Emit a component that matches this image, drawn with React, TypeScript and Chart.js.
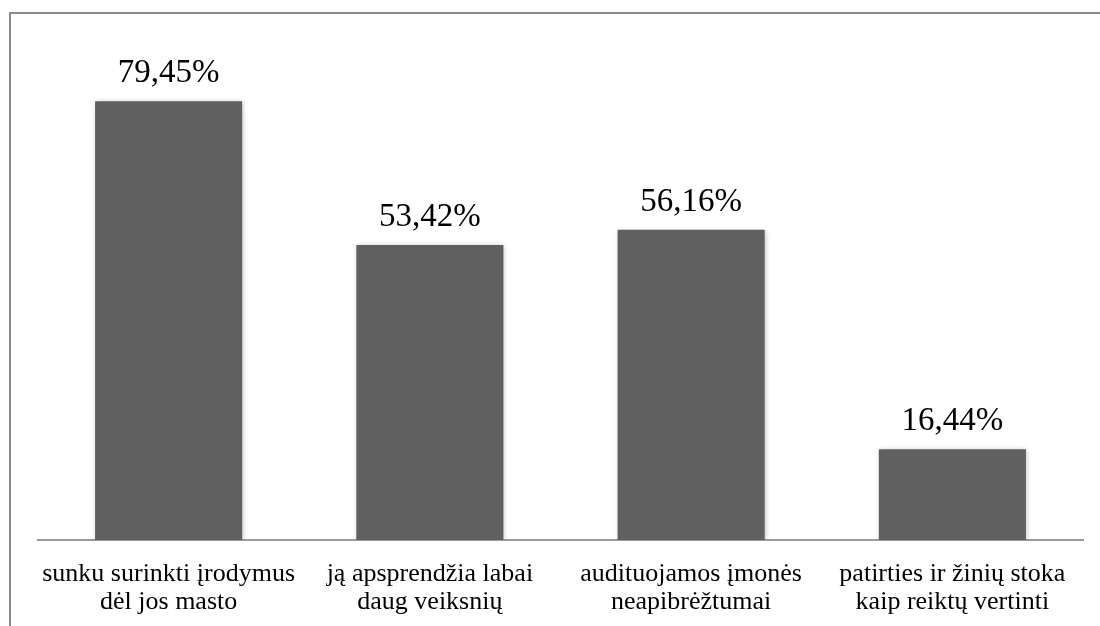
import React, { useEffect, useRef } from "react";
import { Chart, registerables } from "chart.js";

Chart.register(...registerables);

const categories: string[][] = [
  ["sunku surinkti įrodymus", "dėl jos masto"],
  ["ją apsprendžia labai", "daug veiksnių"],
  ["audituojamos įmonės", "neapibrėžtumai"],
  ["patirties ir žinių stoka", "kaip reiktų vertinti"],
];
const values: number[] = [79.45, 53.42, 56.16, 16.44];

const SERIF = "'Liberation Serif', 'Times New Roman', serif";

const framePlugin = {
  id: "frame",
  beforeDraw(chart: any) {
    const ctx = chart.ctx;
    ctx.save();
    ctx.fillStyle = "#ffffff";
    ctx.fillRect(0, 0, chart.width, chart.height);
    ctx.strokeStyle = "#8c8c8c";
    ctx.lineWidth = 2;
    ctx.beginPath();
    ctx.moveTo(10, chart.height);
    ctx.lineTo(10, 13);
    ctx.lineTo(chart.width, 13);
    ctx.stroke();
    ctx.restore();
  },
};

const shadowPlugin = {
  id: "barShadow",
  beforeDatasetsDraw(chart: any) {
    const ctx = chart.ctx;
    ctx.save();
    ctx.shadowColor = "rgba(0,0,0,0.28)";
    ctx.shadowBlur = 5;
    ctx.shadowOffsetX = 1;
    ctx.shadowOffsetY = 1;
  },
  afterDatasetsDraw(chart: any) {
    chart.ctx.restore();
  },
};

const valueLabelPlugin = {
  id: "valueLabels",
  afterDatasetsDraw(chart: any) {
    const ctx = chart.ctx;
    const meta = chart.getDatasetMeta(0);
    ctx.save();
    ctx.fillStyle = "#000000";
    ctx.font = `33px ${SERIF}`;
    ctx.textAlign = "center";
    ctx.textBaseline = "alphabetic";
    meta.data.forEach((bar: any, i: number) => {
      const v = values[i];
      const txt = v.toFixed(2).replace(".", ",") + "%";
      ctx.fillText(txt, bar.x, bar.y - 19);
    });
    ctx.restore();
  },
};

export default function App() {
  const canvasRef = useRef<HTMLCanvasElement | null>(null);

  useEffect(() => {
    const canvas = canvasRef.current;
    if (!canvas) return;
    const chart = new Chart(canvas, {
      type: "bar",
      data: {
        labels: categories,
        datasets: [
          {
            data: values,
            backgroundColor: "#606060",
            borderWidth: 0,
            categoryPercentage: 0.563,
            barPercentage: 1,
          },
        ],
      },
      options: {
        animation: false,
        responsive: false,
        maintainAspectRatio: false,
        devicePixelRatio: 1,
        layout: { padding: { left: 38, right: 17, top: 43, bottom: 0 } },
        plugins: {
          legend: { display: false },
          tooltip: { enabled: false },
        },
        scales: {
          x: {
            grid: { display: false, drawTicks: false },
            border: { display: true, color: "#9a9a9a", width: 2 },
            ticks: {
              color: "#000000",
              font: { family: SERIF, size: 26, lineHeight: 1.08 },
              padding: 20,
              maxRotation: 0,
              autoSkip: false,
            },
            afterFit(scale: any) {
              scale.height = 86;
            },
          },
          y: {
            display: false,
            min: 0,
            max: 90,
          },
        },
      },
      plugins: [framePlugin, shadowPlugin, valueLabelPlugin],
    });
    return () => chart.destroy();
  }, []);

  return (
    <div style={{ position: "fixed", left: 0, top: 0, width: 1100, height: 626, background: "#fff" }}>
      <canvas ref={canvasRef} width={1100} height={626} style={{ display: "block" }} />
    </div>
  );
}
